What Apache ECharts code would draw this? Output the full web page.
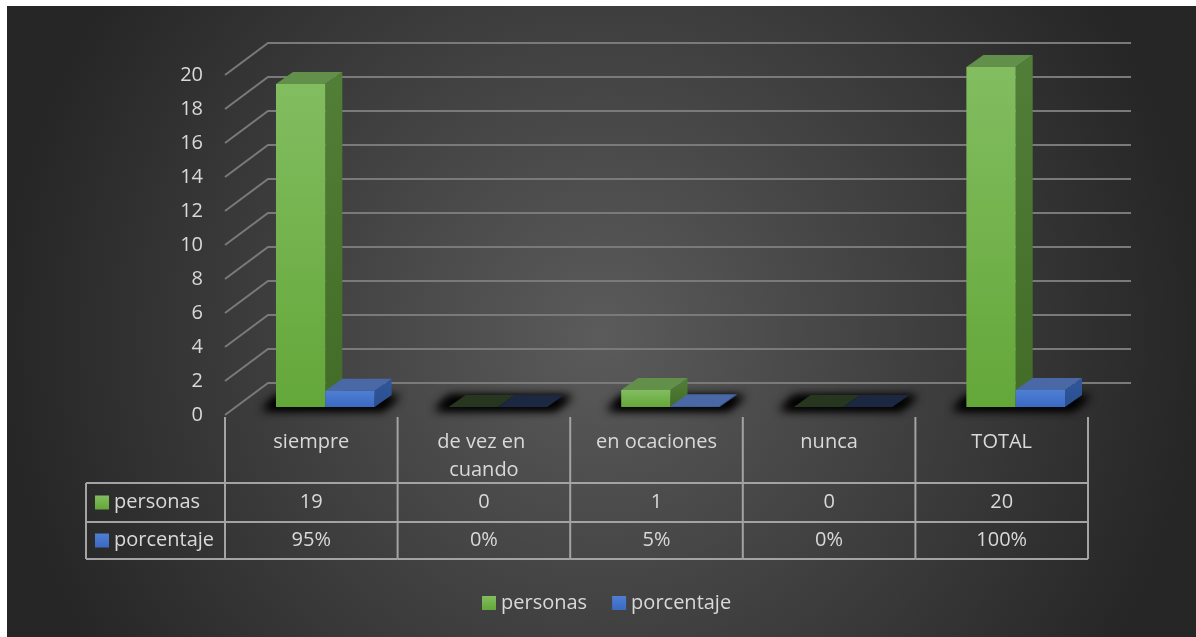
<!DOCTYPE html>
<html>
<head>
<meta charset="utf-8">
<script src="https://cdn.jsdelivr.net/npm/echarts@6/dist/echarts.min.js"></script>
<style>
  html, body { margin: 0; padding: 0; background: #ffffff; overflow: hidden; }
  #chart { position: absolute; left: 7px; top: 6px; width: 1189px; height: 631px; }
</style>
</head>
<body>
<div id="chart"></div>
<script>
// ---- data ----
const categories = ['siempre', 'de vez en cuando', 'en ocaciones', 'nunca', 'TOTAL'];
const seriesNames = ['personas', 'porcentaje'];
const personas = [19, 0, 1, 0, 20];
const porcentaje = [0.95, 0, 0.05, 0, 1];
const yTicks = [0, 2, 4, 6, 8, 10, 12, 14, 16, 18, 20];

// ---- look ----
const FONT = '"Open Sans", "Noto Sans", sans-serif';
const TEXT = '#d9d9d9';
const GRID_LINE = '#7a7a7a';
const TABLE_LINE = '#a3a3a3';
const WALL = [43, -32];      // depth of the side wall / floor
const BAR_OFF = [14, -8];    // where the bars sit inside the depth
const BAR_DEPTH = [17, -12]; // thickness of a bar
const ROWS = [68, 39, 37];   // table row heights under the floor

const palettes = [
  { front: ['#82bd60', '#64a739'], side: ['#527f38', '#426c27'], top: '#62904a', flat: '#27361f' },
  { front: ['#4d7fd3', '#3b69c3'], side: ['#30569a', '#2b4f90'], top: '#4a68a6', flat: '#1c2841' }
];
const vgrad = (a, b) => ({ type: 'linear', x: 0, y: 0, x2: 0, y2: 1, colorStops: [{ offset: 0, color: a }, { offset: 1, color: b }] });

const fmtPct = v => Math.round(v * 100) + '%';

// ---- drawing helpers ----
function pairGeom(api, idx) {
  const band = api.size([1, 0])[0];
  const barW = band / 3.5;
  const base = api.coord([idx, 0]);
  return { band, barW, cx: base[0], baseY: base[1] };
}

function barItem(seriesIdx) {
  const pal = palettes[seriesIdx];
  return function (params, api) {
    const idx = api.value(0);
    const v = api.value(1);
    const g = pairGeom(api, idx);
    const x0 = g.cx - g.barW + seriesIdx * g.barW + BAR_OFF[0];
    const x1 = x0 + g.barW;
    const yb = g.baseY + BAR_OFF[1];
    const yt = api.coord([idx, v])[1] + BAR_OFF[1];
    const dx = BAR_DEPTH[0], dy = BAR_DEPTH[1];
    if (v === 0) {
      return {
        type: 'polygon',
        shape: { points: [[x0, yb], [x1, yb], [x1 + dx, yb + dy], [x0 + dx, yb + dy]] },
        style: { fill: pal.flat }
      };
    }
    return {
      type: 'group',
      children: [
        { type: 'polygon', shape: { points: [[x1, yt], [x1 + dx, yt + dy], [x1 + dx, yb + dy], [x1, yb]] },
          style: { fill: vgrad(pal.side[0], pal.side[1]) } },
        { type: 'polygon', shape: { points: [[x0, yt], [x0 + dx, yt + dy], [x1 + dx, yt + dy], [x1, yt]] },
          style: { fill: pal.top } },
        { type: 'rect', shape: { x: x0, y: yt, width: g.barW, height: yb - yt },
          style: { fill: vgrad(pal.front[0], pal.front[1]) } }
      ]
    };
  };
}

const option = {
  animation: false,
  backgroundColor: {
    type: 'radial', x: 0.5, y: 0.52, r: 0.95,
    colorStops: [{ offset: 0, color: '#5b5b5b' }, { offset: 1, color: '#262626' }]
  },
  grid: { left: 218, top: 69, width: 863, height: 340 },
  xAxis: { type: 'category', data: categories, show: false },
  yAxis: {
    type: 'value', min: 0, max: 20, interval: 2,
    axisLine: { show: false }, axisTick: { show: false }, splitLine: { show: false },
    axisLabel: { color: TEXT, fontSize: 20, fontFamily: FONT, margin: 22 }
  },
  legend: {
    data: seriesNames, left: 470, top: 582,
    icon: 'rect', itemWidth: 14, itemHeight: 14, itemGap: 25,
    textStyle: { color: TEXT, fontSize: 20, fontFamily: FONT }
  },
  graphic: [],
  series: [
    // side wall diagonals + back wall grid lines
    {
      type: 'custom', name: 'rejilla', silent: true, z: 1,
      data: yTicks.map(v => [0, v]),
      renderItem(params, api) {
        const cs = params.coordSys;
        const y = api.coord([0, api.value(1)])[1];
        return {
          type: 'polyline',
          shape: { points: [[cs.x, y], [cs.x + WALL[0], y + WALL[1]], [cs.x + cs.width + WALL[0], y + WALL[1]]] },
          style: { stroke: GRID_LINE, lineWidth: 2, fill: null }
        };
      }
    },
    // soft floor shadow under each pair of bars
    {
      type: 'custom', name: 'sombra', silent: true, z: 2,
      data: categories.map((c, i) => [i, 0]),
      renderItem(params, api) {
        const g = pairGeom(api, api.value(0));
        const xL = g.cx - g.barW + BAR_OFF[0];
        const xR = g.cx + g.barW + BAR_OFF[0];
        const yF = g.baseY + BAR_OFF[1];
        const yB = yF + BAR_DEPTH[1];
        const S = 3000;
        const pts = [[xL - 14, yF + 3], [xR + 8, yF + 3], [xR + BAR_DEPTH[0] + 8, yB + 1], [xL + BAR_DEPTH[0] - 16, yB + 1]];
        return {
          type: 'group',
          children: [0, 1].map(() => ({
            type: 'polygon',
            shape: { points: pts.map(p => [p[0] - S, p[1]]) },
            style: { fill: '#000', shadowBlur: 10, shadowColor: 'rgba(0,0,0,0.95)', shadowOffsetX: S, shadowOffsetY: 0 }
          }))
        };
      }
    },
    {
      type: 'custom', name: seriesNames[0], z: 3,
      itemStyle: { color: vgrad(palettes[0].front[0], palettes[0].front[1]) },
      data: personas.map((v, i) => [i, v]),
      renderItem: barItem(0)
    },
    {
      type: 'custom', name: seriesNames[1], z: 4,
      itemStyle: { color: vgrad(palettes[1].front[0], palettes[1].front[1]) },
      data: porcentaje.map((v, i) => [i, v]),
      renderItem: barItem(1)
    },
    // data table below the floor
    {
      type: 'custom', name: 'tabla', silent: true, z: 5,
      data: categories.map((c, i) => [i, 0]),
      renderItem(params, api) {
        const i = api.value(0);
        const g = pairGeom(api, i);
        const xa = g.cx - g.band / 2, xb = g.cx + g.band / 2;
        const y0 = g.baseY, y1 = y0 + ROWS[0], y2 = y1 + ROWS[1], y3 = y2 + ROWS[2];
        const line = pts => ({ type: 'polyline', shape: { points: pts }, style: { stroke: TABLE_LINE, lineWidth: 2, fill: null } });
        const txt = (t, y, extra) => ({
          type: 'text', x: g.cx, y,
          style: Object.assign({ text: t, fill: TEXT, fontSize: 20, fontFamily: FONT, align: 'center', verticalAlign: 'middle' }, extra || {})
        });
        return {
          type: 'group',
          children: [
            line([[xb, y0 + 2], [xb, y3]]),
            line([[xa, y1], [xb, y1]]),
            line([[xa, y2], [xb, y2]]),
            line([[xa, y3], [xb, y3]]),
            txt(categories[i], y0 + 13, { verticalAlign: 'top', width: 140, overflow: 'break', lineHeight: 28 }),
            txt(String(personas[i]), (y1 + y2) / 2),
            txt(fmtPct(porcentaje[i]), (y2 + y3) / 2)
          ]
        };
      }
    }
  ]
};

const chart = echarts.init(document.getElementById('chart'));
chart.setOption(option);

// row headers of the data table (legend keys + series names)
(function () {
  const x0 = 218, y0 = 409;
  const y1 = y0 + ROWS[0], y2 = y1 + ROWS[1], y3 = y2 + ROWS[2];
  const left = 79;
  const ln = pts => ({ type: 'polyline', silent: true, z: 10, shape: { points: pts }, style: { stroke: TABLE_LINE, lineWidth: 2, fill: null } });
  const rowsY = [(y1 + y2) / 2, (y2 + y3) / 2];
  const els = [
    ln([[x0, y0 + 2], [x0, y3]]),
    ln([[left, y1], [x0, y1]]),
    ln([[left, y2], [x0, y2]]),
    ln([[left, y3], [x0, y3]]),
    ln([[left, y1], [left, y3]])
  ];
  seriesNames.forEach((n, k) => {
    els.push({ type: 'rect', silent: true, z: 10, shape: { x: 88, y: rowsY[k] - 7, width: 14, height: 14 },
      style: { fill: vgrad(palettes[k].front[0], palettes[k].front[1]) } });
    els.push({ type: 'text', silent: true, z: 10, x: 107, y: rowsY[k],
      style: { text: n, fill: TEXT, fontSize: 20, fontFamily: FONT, align: 'left', verticalAlign: 'middle' } });
  });
  chart.setOption({ graphic: els });
})();
</script>
</body>
</html>
